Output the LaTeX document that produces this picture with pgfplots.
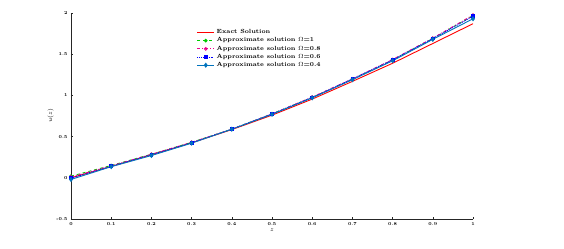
\documentclass[border=0pt]{standalone}
\usepackage{pgfplots}
\pgfplotsset{compat=1.18}
\definecolor{mblue}{rgb}{0.0,0.45,0.74}
\begin{document}
\begin{tikzpicture}[x=1bp,y=1bp]
\begin{axis}[
  scale only axis, width=402bp, height=206bp,
  xmin=0, xmax=1, ymin=-0.5, ymax=2,
  axis x line*=bottom, axis y line*=left,
  axis line style={line width=0.8pt, black!85},
  xtick={0,0.1,...,1}, ytick={-0.5,0,0.5,1,1.5,2},
  xticklabels={0,0.1,0.2,0.3,0.4,0.5,0.6,0.7,0.8,0.9,1},
  yticklabels={-0.5,0,0.5,1,1.5,2},
  tick align=inside, major tick length=2.5bp,
  tick style={line width=0.6pt, black!85},
  tick label style={font=\fontsize{4.5}{5}\selectfont\bfseries},
  xlabel={$z$}, ylabel={$u(z)$},
  label style={font=\fontsize{6.5}{7}\selectfont},
  xlabel style={yshift=4bp}, ylabel style={yshift=-4bp},
  legend style={draw=none, fill=none, at={(0.31,0.935)}, anchor=north west,
    font=\fontsize{6}{7}\selectfont\bfseries, row sep=-1.5bp, inner sep=1bp},
  legend cell align=left,
  every axis plot/.append style={line width=0.9pt},
]
\addplot[red, no markers] coordinates {(0,0)(0.1,0.138)(0.2,0.28)(0.3,0.425)(0.4,0.585)(0.5,0.76)(0.6,0.955)(0.7,1.17)(0.8,1.39)(0.9,1.63)(1,1.87)};
\addlegendentry{Exact Solution}
\addplot[green!80!black, dashed, mark=*, mark size=1.3pt, mark options={solid}] coordinates {(0,0.02)(0.1,0.15)(0.2,0.285)(0.3,0.43)(0.4,0.59)(0.5,0.775)(0.6,0.975)(0.7,1.195)(0.8,1.43)(0.9,1.69)(1,1.97)};
\addlegendentry{Approximate solution $\Omega$=1}
\addplot[magenta, dash dot, mark=o, mark size=1.4pt, mark options={solid}] coordinates {(0,0.01)(0.1,0.145)(0.2,0.285)(0.3,0.43)(0.4,0.59)(0.5,0.775)(0.6,0.98)(0.7,1.2)(0.8,1.435)(0.9,1.695)(1,1.975)};
\addlegendentry{Approximate solution $\Omega$=0.8}
\addplot[blue, densely dotted, mark=square*, mark size=1.4pt, mark options={solid}] coordinates {(0,-0.005)(0.1,0.14)(0.2,0.28)(0.3,0.425)(0.4,0.59)(0.5,0.775)(0.6,0.975)(0.7,1.2)(0.8,1.43)(0.9,1.69)(1,1.96)};
\addlegendentry{Approximate solution $\Omega$=0.6}
\addplot[mblue, solid, mark=diamond*, mark size=1.9pt] coordinates {(0,-0.02)(0.1,0.135)(0.2,0.27)(0.3,0.42)(0.4,0.59)(0.5,0.77)(0.6,0.97)(0.7,1.19)(0.8,1.42)(0.9,1.68)(1,1.93)};
\addlegendentry{Approximate solution $\Omega$=0.4}
\end{axis}
\useasboundingbox (-71,-29) rectangle (493,219);
\end{tikzpicture}
\end{document}
